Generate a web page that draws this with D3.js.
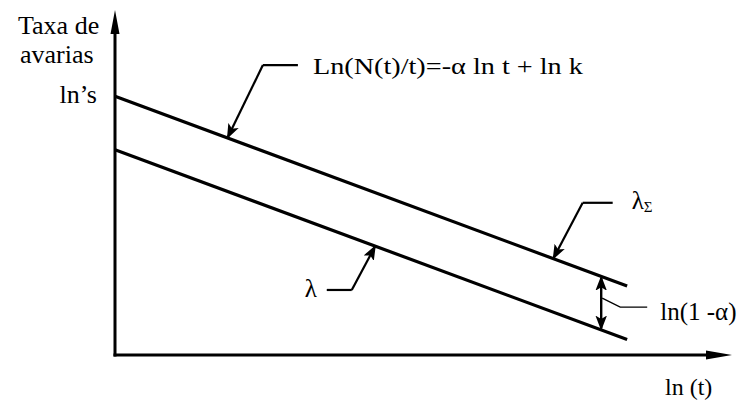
<!DOCTYPE html>
<html>
<head>
<meta charset="utf-8">
<script src="https://cdn.jsdelivr.net/npm/d3@7"></script>
<style>
  html, body { margin: 0; padding: 0; background: #fff; }
  svg { display: block; }
  text { font-family: "Liberation Serif", "Times New Roman", serif; fill: #000; }
</style>
</head>
<body>
<script>
// Schematic: failure rate vs ln(t), both in log units
const xDomain = [0, 10];
const yDomain = [0, 10];

// Cumulative rate line λΣ and instantaneous rate line λ (offset by ln(1-α))
const lineSumX = [0, 8.3];
const lineSumY = [7.5, 2.0];
const lineLamX = [0, 8.3];
const lineLamY = [5.95, 0.45];

// Where the callout arrows touch the lines (x in ln t units)
const calloutFormulaX = 1.83;
const calloutSumX = 7.11;
const calloutLamX = 4.21;
const gapArrowX = 7.88;

const axisYLabel = ["Taxa de", "avarias"];
const axisXLabel = "ln (t)";
const interceptLabel = "ln’s";
const formulaLabel = "Ln(N(t)/t)=-α ln t + ln k";
const lamLabel = "λ";
const sumLabel = ["λ", "Σ"];
const gapLabel = "ln(1 -α)";

const W = 744, H = 403;
const svg = d3.select("body").append("svg").attr("width", W).attr("height", H);

const x = d3.scaleLinear().domain(xDomain).range([115, 732]);
const y = d3.scaleLinear().domain(yDomain).range([355, 10]);

const defs = svg.append("defs");
// callout arrowhead: heavy outlined triangle with a small light core
defs.append("marker")
  .attr("id", "callout")
  .attr("viewBox", "0 0 14 12")
  .attr("refX", 12.5).attr("refY", 6)
  .attr("markerWidth", 14).attr("markerHeight", 12)
  .attr("markerUnits", "userSpaceOnUse")
  .attr("orient", "auto-start-reverse")
  .append("path")
  .attr("d", "M1.5,1.8 L12.5,6 L1.5,10.2 L4,6 Z")
  .attr("fill", "#000").attr("stroke", "#000").attr("stroke-width", 1.6)
  .attr("stroke-linejoin", "miter");

const interp = (xs, ys, v) => ys[0] + (ys[1] - ys[0]) * (v - xs[0]) / (xs[1] - xs[0]);

// axes with filled arrowheads
const x0 = x(0), y0 = y(0);
svg.append("line").attr("x1", x0).attr("y1", y0 + 1.5).attr("x2", x0).attr("y2", y(10) + 18)
  .attr("stroke", "#000").attr("stroke-width", 3);
svg.append("line").attr("x1", x0 - 1.5).attr("y1", y0).attr("x2", x(10) - 20).attr("y2", y0)
  .attr("stroke", "#000").attr("stroke-width", 3);
svg.append("path")
  .attr("d", `M${x0},${y(10)} L${x0 + 4.5},${y(10) + 24} L${x0 - 4.5},${y(10) + 24} Z`)
  .attr("fill", "#000");
svg.append("path")
  .attr("d", `M${x(10)},${y0} L${x(10) - 26},${y0 - 4.5} L${x(10) - 26},${y0 + 4.5} Z`)
  .attr("fill", "#000");

// the two rate lines
const line = d3.line().x(d => x(d[0])).y(d => y(d[1]));
[[lineSumX, lineSumY], [lineLamX, lineLamY]].forEach(([xs, ys]) => {
  svg.append("path")
    .attr("d", line(xs.map((v, i) => [v, ys[i]])))
    .attr("fill", "none").attr("stroke", "#000").attr("stroke-width", 3.2);
});

const lead = (pts, arrow) => {
  const p = svg.append("path")
    .attr("d", d3.line()(pts))
    .attr("fill", "none").attr("stroke", "#000").attr("stroke-width", 2.2);
  if (arrow) p.attr("marker-end", "url(#callout)");
};

// formula callout (upper line)
{
  const tx = x(calloutFormulaX), ty = y(interp(lineSumX, lineSumY, calloutFormulaX));
  lead([[tx + 35, ty - 73], [tx + 70, ty - 73]]);
  lead([[tx + 35, ty - 73], [tx, ty - 1]], true);
  svg.append("text").attr("x", tx + 85).attr("y", ty - 64)
    .attr("font-size", 24).attr("textLength", 270).attr("lengthAdjust", "spacingAndGlyphs")
    .text(formulaLabel);
}

// λΣ callout
{
  const tx = x(calloutSumX), ty = y(interp(lineSumX, lineSumY, calloutSumX));
  lead([[tx + 29, ty - 56], [tx + 59, ty - 56]]);
  lead([[tx + 29, ty - 56], [tx, ty - 1]], true);
  const t = svg.append("text").attr("x", tx + 78).attr("y", ty - 50).attr("font-size", 25);
  t.append("tspan").text(sumLabel[0]);
  t.append("tspan").attr("font-size", 15).attr("dy", 3).text(sumLabel[1]);
}

// λ callout
{
  const tx = x(calloutLamX), ty = y(interp(lineLamX, lineLamY, calloutLamX));
  lead([[tx - 48, ty + 44], [tx - 23, ty + 44]]);
  lead([[tx - 23, ty + 44], [tx, ty + 1]], true);
  svg.append("text").attr("x", tx - 70).attr("y", ty + 51).attr("font-size", 25).text(lamLabel);
}

// gap between the lines: ln(1-α)
{
  const gx = x(gapArrowX);
  const yTop = y(interp(lineSumX, lineSumY, gapArrowX)) + 1.5;
  const yBot = y(interp(lineLamX, lineLamY, gapArrowX)) - 1.5;
  svg.append("line").attr("x1", gx).attr("y1", yTop).attr("x2", gx).attr("y2", yBot)
    .attr("stroke", "#000").attr("stroke-width", 2.4)
    .attr("marker-start", "url(#callout)").attr("marker-end", "url(#callout)");
  const my = (yTop + yBot) / 2;
  svg.append("path")
    .attr("d", d3.line()([[gx + 1, my - 5], [gx + 19, my + 4], [gx + 46, my + 4]]))
    .attr("fill", "none").attr("stroke", "#000").attr("stroke-width", 1.4);
  svg.append("text").attr("x", gx + 59).attr("y", my + 17).attr("font-size", 25).text(gapLabel);
}

// axis titles and intercept label
svg.append("text").attr("x", 18).attr("y", 34).attr("font-size", 26).text(axisYLabel[0]);
svg.append("text").attr("x", 20).attr("y", 63).attr("font-size", 26).text(axisYLabel[1]);
svg.append("text").attr("x", 97).attr("y", y(lineSumY[0]) + 7).attr("text-anchor", "end")
  .attr("font-size", 26).text(interceptLabel);
svg.append("text").attr("x", 665).attr("y", 395).attr("font-size", 24).text(axisXLabel);
</script>
</body>
</html>
